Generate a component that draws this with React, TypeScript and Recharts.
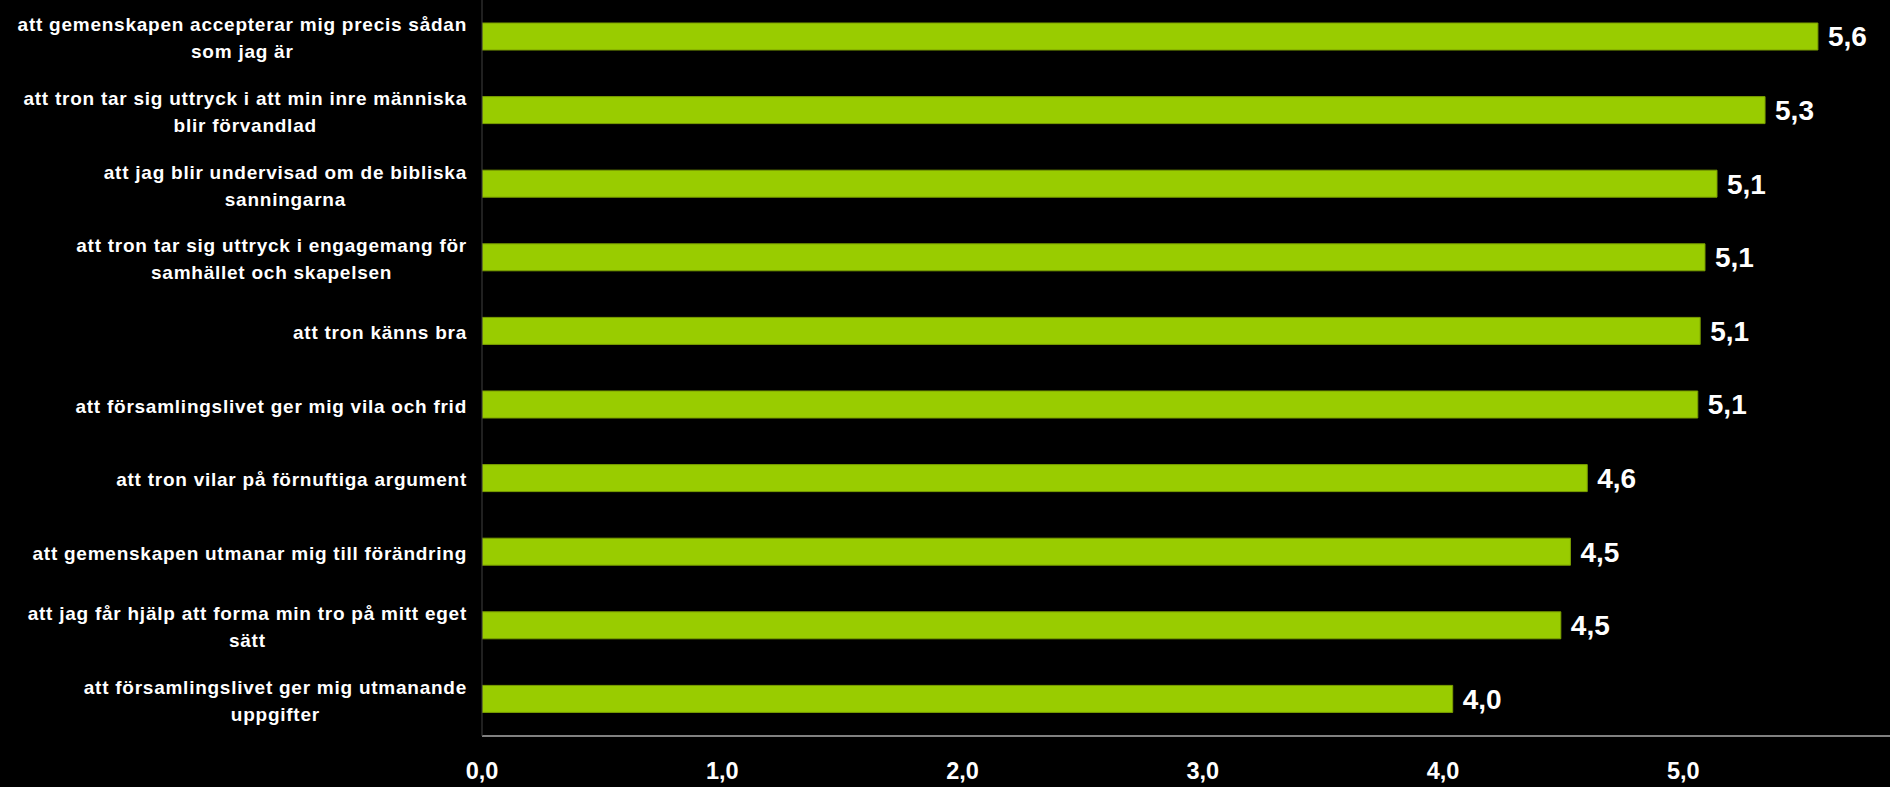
import { Bar, BarChart, LabelList, XAxis, YAxis } from "recharts";

const categories = [
  "att gemenskapen accepterar mig precis sådan\nsom jag är",
  "att tron tar sig uttryck i att min inre människa\nblir förvandlad",
  "att jag blir undervisad om de bibliska\nsanningarna",
  "att tron tar sig uttryck i engagemang för\nsamhället och skapelsen",
  "att tron känns bra",
  "att församlingslivet ger mig vila och frid",
  "att tron vilar på förnuftiga argument",
  "att gemenskapen utmanar mig till förändring",
  "att jag får hjälp att forma min tro på mitt eget\nsätt",
  "att församlingslivet ger mig utmanande\nuppgifter",
];

const values = [5.56, 5.34, 5.14, 5.09, 5.07, 5.06, 4.6, 4.53, 4.49, 4.04];

const xTicks = [0, 1, 2, 3, 4, 5];

const data = categories.map((name, i) => ({ name, value: values[i] }));

const FONT = "'Liberation Sans', Arial, sans-serif";
const LABEL_SIZE = 19;
const LABEL_SPACING = 0.75;

let ctx: CanvasRenderingContext2D | null = null;
function measure(text: string) {
  if (!ctx) ctx = document.createElement("canvas").getContext("2d");
  if (!ctx) return text.length * 10;
  ctx.font = `bold ${LABEL_SIZE}px ${FONT}`;
  return ctx.measureText(text).width + text.length * LABEL_SPACING;
}

const comma = (v: number) => v.toFixed(1).replace(".", ",");

function CategoryTick(props: any) {
  const { x, y, payload } = props;
  const lines = String(payload.value).split("\n");
  const maxW = Math.max(...lines.map(measure));
  const cx = x - 15 - maxW / 2;
  const n = lines.length;
  return (
    <g>
      {lines.map((ln, i) => (
        <text
          key={i}
          x={cx}
          y={y + 1.5 + (i - (n - 1) / 2) * 27}
          textAnchor="middle"
          dominantBaseline="central"
          fill="#ffffff"
          fontFamily={FONT}
          fontWeight="bold"
          fontSize={LABEL_SIZE}
          style={{ letterSpacing: LABEL_SPACING }}
        >
          {ln}
        </text>
      ))}
    </g>
  );
}

function ValueTick(props: any) {
  const { x, y, payload } = props;
  return (
    <text
      x={x}
      y={y + 43}
      textAnchor="middle"
      fill="#ffffff"
      fontFamily={FONT}
      fontWeight="bold"
      fontSize={23.5}
    >
      {comma(payload.value)}
    </text>
  );
}

export default function App() {
  return (
    <div
      style={{
        position: "absolute",
        left: 0,
        top: 0,
        width: 1890,
        height: 787,
        background: "#000000",
      }}
    >
      <BarChart
        width={1890}
        height={787}
        data={data}
        layout="vertical"
        margin={{ top: 0, right: 0, bottom: 0, left: 0 }}
      >
        <XAxis
          type="number"
          domain={[0, 5.86]}
          ticks={xTicks}
          allowDataOverflow
          height={51}
          tickSize={0}
          tickMargin={0}
          axisLine={{ stroke: "#808080", strokeWidth: 2 }}
          tick={<ValueTick />}
        />
        <YAxis
          type="category"
          dataKey="name"
          width={482}
          interval={0}
          tickSize={0}
          tickMargin={0}
          axisLine={{ stroke: "#404040", strokeWidth: 1 }}
          tick={<CategoryTick />}
        />
        <Bar
          dataKey="value"
          barSize={27}
          fill="#99cc00"
          stroke="#7a9e00"
          strokeWidth={1}
          isAnimationActive={false}
        >
          <LabelList
            dataKey="value"
            position="right"
            offset={10}
            formatter={(v: any) => comma(Number(v))}
            fill="#ffffff"
            fontFamily={FONT}
            fontWeight="bold"
            fontSize={28}
          />
        </Bar>
      </BarChart>
    </div>
  );
}
